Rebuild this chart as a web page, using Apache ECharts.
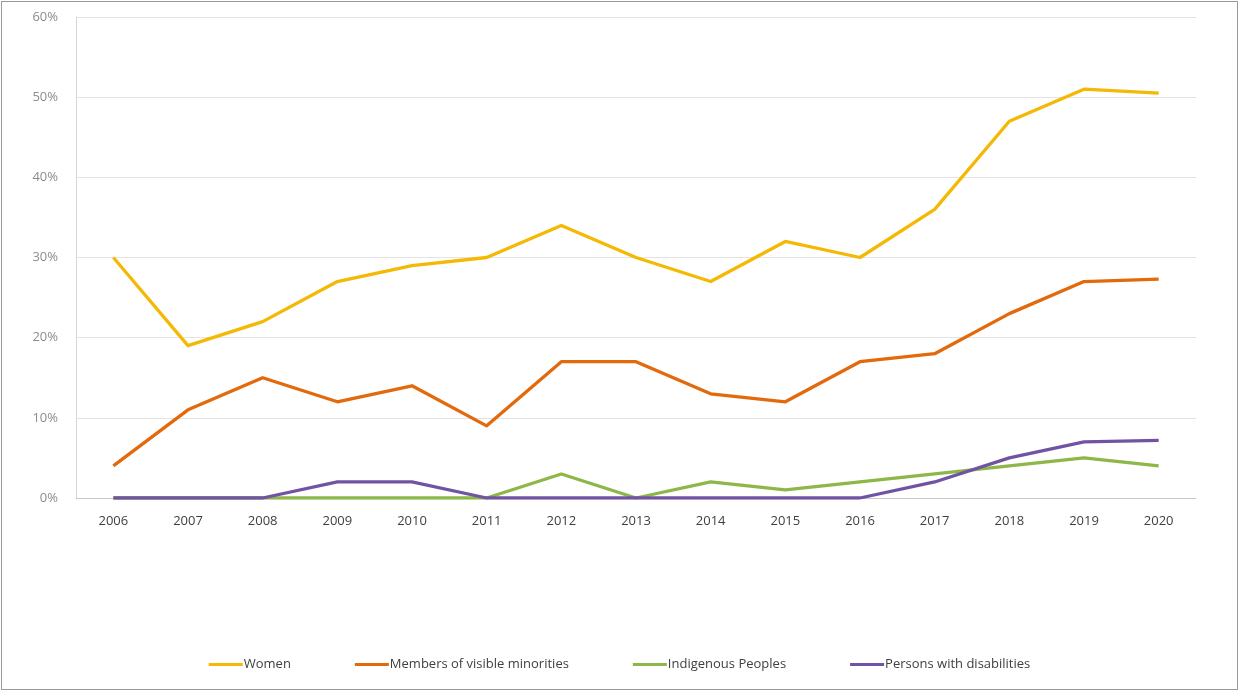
<!DOCTYPE html>
<html><head><meta charset="utf-8">
<script src="https://cdn.jsdelivr.net/npm/echarts@6/dist/echarts.min.js"></script>
<style>
html,body{margin:0;padding:0;background:#fff;}
#frame{position:absolute;left:1px;top:1px;width:1235px;height:687px;border:1px solid #9a9a9a;}
#c{position:absolute;left:0;top:0;width:1239px;height:691px;}
</style></head>
<body>
<div id="frame"></div>
<div id="c"></div>
<script>
const years = ['2006','2007','2008','2009','2010','2011','2012','2013','2014','2015','2016','2017','2018','2019','2020'];
const women = [30,19,22,27,29,30,34,30,27,32,30,36,47,51,50.5];
const minorities = [4,11,15,12,14,9,17,17,13,12,17,18,23,27,27.3];
const indigenous = [0,0,0,0,0,0,3,0,2,1,2,3,4,5,4];
const disabilities = [0,0,0,2,2,0,0,0,0,0,0,2,5,7,7.2];
const seriesNames = ['Women','Members of visible minorities','Indigenous Peoples','Persons with disabilities'];
const colors = ['#F4B905','#E2690C','#8DB748','#7054A3'];
const yTicks = [0,10,20,30,40,50,60];

const chart = echarts.init(document.getElementById('c'), null, {renderer:'canvas'});
const font = 'Open Sans, Liberation Sans, sans-serif';
const zOrder = [10, 9, 7, 8];
const mk = (name, data, i) => ({
  name, type:'line', data, symbol:'none', color: colors[i],
  lineStyle:{width:3.3, color: colors[i], join:'round'}, z: zOrder[i]
});
chart.setOption({
  animation:false,
  backgroundColor:'transparent',
  grid:{left:76, right:43, top:17, bottom:193, containLabel:false},
  legend:{
    bottom:15, left:'center', itemGap:64, itemWidth:34, itemHeight:3,
    icon:'rect',
    textStyle:{fontFamily:font, fontSize:13, color:'#404040', padding:[0,0,0,-4]},
    data: seriesNames
  },
  xAxis:{
    type:'category', data:years, boundaryGap:true,
    axisLine:{show:true, lineStyle:{color:'#c8c8c8', width:1}},
    axisTick:{show:false},
    axisLabel:{fontFamily:font, fontSize:13, color:'#404040', margin:17}
  },
  yAxis:{
    type:'value', min:0, max:60, interval:10,
    axisLine:{show:true, lineStyle:{color:'#d6d6d6', width:1}},
    axisTick:{show:false},
    splitLine:{lineStyle:{color:'#e3e3e3', width:1}},
    axisLabel:{fontFamily:font, fontSize:13, color:'#8c8c8c', margin:18,
      formatter: v => yTicks.includes(v) ? v + '%' : ''}
  },
  series:[
    mk(seriesNames[0], women, 0),
    mk(seriesNames[1], minorities, 1),
    mk(seriesNames[2], indigenous, 2),
    mk(seriesNames[3], disabilities, 3)
  ]
});
</script>
</body></html>
